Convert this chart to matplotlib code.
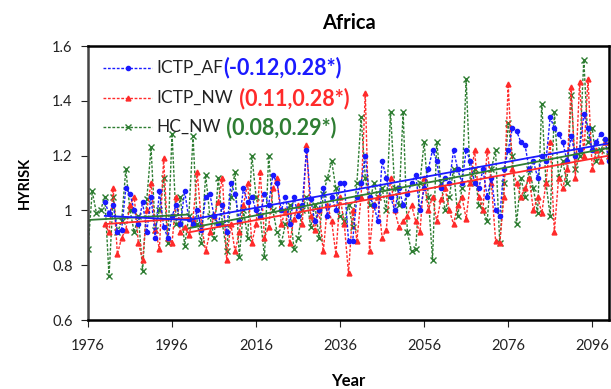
import numpy as np
import matplotlib
matplotlib.use("Agg")
import matplotlib.pyplot as plt

plt.rcParams['font.family'] = ['Lato', 'DejaVu Sans']

# HYRISK, HC_NW run: 1976-2100
hc_years = list(range(1976, 2101))
hc_nw = [
    0.86, 1.07, 0.99, 1.00, 1.05, 0.76, 1.05, 0.92, 0.96, 1.15,  # 1976-1985
    1.00, 0.92, 0.98, 0.78, 1.04, 1.23, 0.93, 1.00, 1.12, 0.88,  # 1986-1995
    1.28, 0.95, 1.05, 0.87, 0.98, 1.27, 0.95, 0.88, 1.13, 0.98,  # 1996-2005
    0.90, 1.12, 0.95, 0.85, 1.05, 1.14, 0.83, 1.00, 0.90, 1.20,  # 2006-2015
    1.05, 0.98, 0.83, 1.20, 1.00, 0.92, 0.88, 0.95, 1.02, 0.86,  # 2016-2025
    0.90, 1.00, 1.05, 0.94, 1.02, 0.90, 1.06, 1.12, 1.18, 1.08,  # 2026-2035
    0.98, 0.96, 1.02, 0.94, 1.10, 1.34, 1.12, 1.02, 1.10, 1.05,  # 2036-2045
    1.08, 1.00, 1.36, 1.08, 1.02, 1.36, 0.92, 0.85, 0.86, 1.10,  # 2046-2055
    1.25, 1.05, 0.82, 1.25, 1.10, 1.00, 1.05, 1.15, 0.98, 1.08,  # 2056-2065
    1.48, 1.10, 1.15, 1.02, 1.00, 0.96, 1.15, 1.22, 0.88, 1.10,  # 2066-2075
    1.32, 1.20, 0.95, 1.12, 1.05, 1.15, 1.08, 0.99, 1.39, 1.10,  # 2076-2085
    0.98, 1.36, 1.12, 1.18, 1.10, 1.42, 1.15, 1.20, 1.55, 1.25,  # 2086-2095
    1.30, 1.18, 1.22, 1.25, 1.20,                                # 2096-2100
]

# ICTP runs: 1980-2100
ictp_years = list(range(1980, 2101))
ictp_af = [
    1.03, 0.99, 1.02, 0.92, 0.93, 1.08, 1.06, 1.00, 0.95, 1.03,  # 1980-1989
    0.92, 1.05, 0.90, 1.07, 0.94, 0.90, 0.98, 1.02, 0.95, 1.07,  # 1990-1999
    0.97, 0.95, 1.00, 0.93, 1.05, 1.06, 0.98, 0.95, 1.02, 0.92,  # 2000-2009
    1.10, 1.06, 0.96, 1.08, 1.03, 1.05, 1.00, 0.98, 1.06, 1.02,  # 2010-2019
    1.13, 1.10, 1.00, 1.05, 0.95, 1.05, 0.98, 1.02, 1.22, 1.04,  # 2020-2029
    0.96, 1.00, 1.08, 0.98, 1.05, 1.00, 1.10, 1.10, 0.89, 0.89,  # 2030-2039
    1.05, 1.10, 1.20, 1.05, 1.02, 0.96, 1.18, 1.12, 1.05, 1.00,  # 2040-2049
    1.08, 1.02, 1.06, 1.10, 1.13, 1.00, 1.08, 1.15, 1.22, 1.18,  # 2050-2059
    1.08, 1.12, 1.10, 1.22, 1.15, 1.10, 1.22, 1.18, 1.10, 1.08,  # 2060-2069
    1.15, 1.05, 1.12, 1.00, 0.98, 1.15, 1.22, 1.30, 1.29, 1.25,  # 2070-2079
    1.24, 1.15, 1.18, 1.12, 1.20, 1.18, 1.34, 1.30, 1.28, 1.25,  # 2080-2089
    1.18, 1.27, 1.20, 1.22, 1.35, 1.30, 1.22, 1.25, 1.28, 1.26,  # 2090-2099
    1.18,                                                        # 2100
]
ictp_nw = [
    0.95, 0.92, 1.08, 0.84, 0.90, 0.93, 1.02, 1.05, 0.88, 0.82,  # 1980-1989
    1.00, 1.10, 0.93, 0.86, 1.19, 0.90, 0.88, 1.05, 0.92, 0.94,  # 1990-1999
    0.91, 0.97, 1.14, 0.95, 0.85, 0.92, 0.98, 1.03, 1.12, 0.82,  # 2000-2009
    0.95, 0.85, 0.92, 1.02, 1.10, 0.88, 0.95, 1.14, 0.90, 0.94,  # 2010-2019
    1.08, 1.12, 0.95, 1.00, 0.88, 0.97, 1.02, 0.95, 1.24, 0.98,  # 2020-2029
    0.93, 1.00, 0.85, 1.02, 0.96, 0.84, 1.05, 0.95, 0.77, 1.00,  # 2030-2039
    0.89, 1.05, 1.43, 0.85, 1.02, 1.05, 0.90, 0.93, 1.12, 1.00,  # 2040-2049
    0.94, 0.96, 0.98, 1.02, 0.96, 0.92, 1.12, 1.00, 1.05, 0.96,  # 2050-2059
    1.04, 1.08, 1.00, 0.95, 1.02, 1.05, 0.97, 1.10, 1.22, 1.05,  # 2060-2069
    1.00, 1.22, 1.10, 0.89, 0.88, 1.05, 1.46, 1.15, 1.10, 1.05,  # 2070-2079
    1.08, 1.12, 1.00, 1.05, 0.99, 1.10, 1.25, 0.92, 1.12, 1.08,  # 2080-2089
    1.15, 1.45, 1.12, 1.47, 1.20, 1.48, 1.15, 1.22, 1.18, 1.25,  # 2090-2099
    1.20,                                                        # 2100
]

# trend segments: (start year, end year, start value, end value)
trend_af = [(1980, 2000, 0.980, 0.965), (2000, 2100, 0.965, 1.245)]
trend_nw = [(1980, 2000, 0.950, 0.972), (2000, 2100, 0.920, 1.200)]
trend_hc = [(1976, 2000, 0.965, 0.985), (2000, 2100, 0.935, 1.228)]

labels = ['ICTP_AF', 'ICTP_NW', 'HC_NW']
slopes = ['(-0.12,0.28*)', ' (0.11,0.28*)', ' (0.08,0.29*)']

c_blue = '#1a1aff'
c_red = '#ff2a2a'
c_green = '#2e7d32'

fig = plt.figure(figsize=(6.11, 3.89), dpi=100)
ax = fig.add_axes([88 / 611, 69 / 389, 521 / 611, 274 / 389])

dash = (0, (2.0, 1.2))
ax.plot(hc_years, hc_nw, color=c_green, linestyle=dash, linewidth=1.0,
        marker='x', markersize=4, markeredgewidth=1.0)
ax.plot(ictp_years, ictp_nw, color=c_red, linestyle=dash, linewidth=1.0,
        marker='^', markersize=3.5)
ax.plot(ictp_years, ictp_af, color=c_blue, linestyle=dash, linewidth=1.0,
        marker='o', markersize=3)

for segs, col in [(trend_hc, c_green), (trend_nw, c_red), (trend_af, c_blue)]:
    for y0, y1, v0, v1 in segs:
        ax.plot([y0, y1], [v0, v1], color=col, linewidth=1.3)

ax.set_xlim(1976, 2100)
ax.set_ylim(0.6, 1.6)
ax.set_xticks([1976, 1996, 2016, 2036, 2056, 2076, 2096])
ax.set_yticks([0.6, 0.8, 1.0, 1.2, 1.4, 1.6])
ax.set_yticklabels(['0.6', '0.8', '1', '1.2', '1.4', '1.6'])
ax.tick_params(axis='x', direction='out', length=5, pad=9, labelsize=10.5, colors='#222222')
ax.tick_params(axis='y', direction='out', length=5, pad=6, labelsize=10.5, colors='#222222')
for s in ax.spines.values():
    s.set_linewidth(1.8)
    s.set_color('black')
ax.spines['left'].set_color('#444444')

ax.set_title('Africa', fontsize=14.5, fontweight='bold', pad=12)
ax.set_ylabel('HYRISK', fontsize=10.5, fontweight='bold', labelpad=15)
ax.set_xlabel('Year', fontsize=12, fontweight='bold', labelpad=14)

# legend drawn by hand so the slope text can be coloured
leg_y = [0.92, 0.81, 0.704]
leg_style = [(c_blue, 'o', 3), (c_red, '^', 3.5), (c_green, 'x', 4)]
for yy, lab, sl, (col, mk, ms) in zip(leg_y, labels, slopes, leg_style):
    ax.plot([0.029, 0.123], [yy, yy], transform=ax.transAxes, color=col,
            linestyle=dash, linewidth=1.0)
    ax.plot([0.076], [yy], transform=ax.transAxes, color=col, marker=mk,
            markersize=ms, linestyle='none')
    t = ax.text(0.132, yy, lab, transform=ax.transAxes, fontsize=12.5,
                va='center', ha='left', color='#222222')
    ax.annotate(sl, xy=(1, 0.5), xycoords=t, va='center', ha='left',
                fontsize=15.5, fontweight='bold', color=col)

fig.savefig('out.png', dpi=100)
